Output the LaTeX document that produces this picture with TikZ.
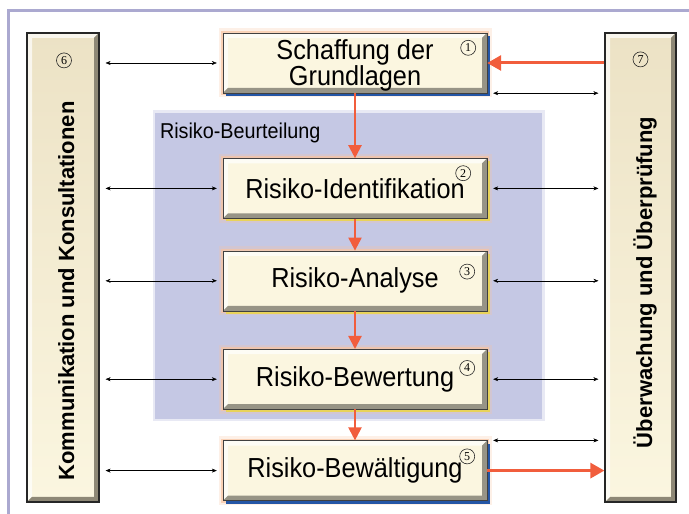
\documentclass[tikz,border=0pt]{standalone}
\usepackage{fontspec}
\setmainfont{Liberation Sans}
\newfontfamily\boxfont{Liberation Sans}[FakeStretch=0.92]
\newfontfamily\numfont{Liberation Serif}
\usepackage{xcolor}
\usetikzlibrary{arrows.meta, positioning, calc, shadows}

\definecolor{cream}{HTML}{FBF6E0}
\definecolor{beige}{HTML}{ECE2C5}
\definecolor{lavender}{HTML}{C5C8E4}
\definecolor{framecol}{HTML}{ABA9D0}
\definecolor{redarr}{HTML}{F15D3C}
\definecolor{shblue}{HTML}{2456A6}
\definecolor{shyellow}{HTML}{E8D35A}
\definecolor{glow}{HTML}{F9C4A0}

\begin{document}
\begin{tikzpicture}[
        x=1pt, y=1pt,
        node distance=32pt,
        bevel/.style={path picture={
            \coordinate (bsw) at (path picture bounding box.south west);
            \coordinate (bne) at (path picture bounding box.north east);
            \fill[white, opacity=0.7] (bsw) -- (bsw|-bne) -- (bne) -- ($(bne)+(-5pt,-5pt)$)
                -- ($(bsw|-bne)+(5pt,-5pt)$) -- ($(bsw)+(5pt,5pt)$) -- cycle;
            \fill[black!40!#1] (bsw) -- (bne|-bsw) -- (bne) -- ($(bne)+(-5pt,-5pt)$)
                -- ($(bne|-bsw)+(-5pt,5pt)$) -- ($(bsw)+(5pt,5pt)$) -- cycle;
        }},
        stage/.style={rectangle, draw=black!75, fill=cream, bevel=cream,
                      minimum width=264pt, minimum height=60pt, align=center,
                      font=\boxfont\fontsize{27.5}{25}\selectfont,
                      preaction={draw=glow, line width=9pt, opacity=0.25, rounded corners=4pt},
                      preaction={draw=glow, line width=4pt, opacity=0.7}},
        blueshadow/.style={drop shadow={shadow xshift=3pt, shadow yshift=-3pt, fill=shblue, opacity=1}},
        yellowshadow/.style={drop shadow={shadow xshift=3pt, shadow yshift=-3pt, fill=shyellow, opacity=1}},
        column/.style={rectangle, draw=black!85, line width=1.2pt, top color=beige, bottom color=cream,
                       bevel=beige, minimum width=72pt, minimum height=469pt},
        coltext/.style={rotate=90, anchor=base, inner sep=0pt, font=\fontsize{22}{26}\selectfont\bfseries},
        num/.style={circle, draw=black!85, line width=0.6pt, minimum size=15pt, inner sep=0pt,
                    font=\numfont\fontsize{12}{12}\selectfont},
        dbl/.style={{Stealth[length=5pt,width=4pt]}-{Stealth[length=5pt,width=4pt]}, thin,
                    shorten <=6pt, shorten >=6pt},
        flow/.style={-{Triangle[length=13pt,width=13pt]}, draw=redarr, line width=2.2pt},
        feed/.style={-{Triangle[length=14pt,width=15pt]}, draw=redarr, line width=3pt},
    ]
    \useasboundingbox (0,0) rectangle (689,514);
    \draw[framecol, line width=3pt] (8,0) -- (8,503) -- (689,503);

    % Risiko-Beurteilung
    \node[fill=lavender, minimum width=387pt, minimum height=306pt,
          preaction={draw=lavender, line width=5pt, opacity=0.4}] (rb) at (348.5,248) {};
    \node[anchor=base west, inner sep=0pt, font=\boxfont\fontsize{21.5}{21}\selectfont]
        (rblabel) at ($(rb.north west)+(5pt,-26pt)$) {Risiko-Beurteilung};

    % side columns
    \node[column] (kk) at (63,246.5) {};
    \node[column, minimum width=71pt] (ue) at (640.5,246.5) {};
    \node[coltext] (kktext) at (74,223) {Kommunikation und Konsultationen};
    \node[coltext] (uetext) at (652,231.5) {Überwachung und Überprüfung};
    \node[num] (n6) at ($(kk.north)+(1pt,-28pt)$) {6};
    \node[num] (n7) at ($(ue.north)+(0pt,-27pt)$) {7};

    % process steps
    \node[stage, blueshadow, inner ysep=1pt] (s1) at (355,451) {\rule{0pt}{25pt}Schaffung der\\Grundlagen};
    \node[stage, yellowshadow, below=65pt of s1] (s2) {Risiko-Identifikation};
    \node[stage, yellowshadow, below=of s2] (s3) {Risiko-Analyse};
    \node[stage, yellowshadow, below=38pt of s3] (s4) {Risiko-Bewertung};
    \node[stage, blueshadow, below=31pt of s4] (s5) {Risiko-Bewältigung};
    \node[num] (n1) at ($(s1.north east)+(-19pt,-15pt)$) {1};
    \node[num] (n2) at ($(s2.north east)+(-24pt,-15pt)$) {2};
    \node[num] (n3) at ($(s3.north east)+(-20pt,-21pt)$) {3};
    \node[num] (n4) at ($(s4.north east)+(-20pt,-19pt)$) {4};
    \node[num] (n5) at ($(s5.north east)+(-20pt,-16pt)$) {5};

    \draw[flow] (s1) -- (s2);
    \draw[flow] (s2) -- (s3);
    \draw[flow] (s3) -- (s4);
    \draw[flow] (s4) -- (s5);

    % Kommunikation
    \draw[dbl, yshift=2pt] (kk.east |- s1.west) -- (s1.west);
    \draw[dbl, yshift=-2pt] (kk.east |- s2.west) -- (s2.west);
    \draw[dbl, yshift=4pt] (kk.east |- s3.west) -- (s3.west);
    \draw[dbl, yshift=3pt] (kk.east |- s4.west) -- (s4.west);
    \draw[dbl, yshift=4pt] (kk.east |- s5.west) -- (s5.west);

    % Ueberwachung
    \draw[feed, yshift=2pt] (ue.west |- s1.east) -- (s1.east);
    \draw[dbl, yshift=6pt] (s1.south east) -- (s1.south east -| ue.west);
    \draw[dbl, yshift=-2pt] (s2.east) -- (s2.east -| ue.west);
    \draw[dbl, yshift=-3.5pt] (s3.east) -- (s3.east -| ue.west);
    \draw[dbl, yshift=-3pt] (s4.east) -- (s4.east -| ue.west);
    \draw[dbl, yshift=-7pt] (s5.north east) -- (s5.north east -| ue.west);
    \draw[feed, yshift=-3pt] (s5.east) -- (s5.east -| ue.west);
\end{tikzpicture}
\end{document}
